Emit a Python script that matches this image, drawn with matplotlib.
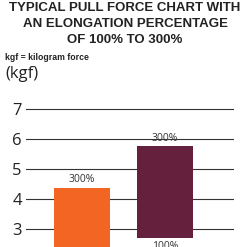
import matplotlib
matplotlib.use("Agg")
import matplotlib.pyplot as plt

# data
cats = [0, 1]
bottoms = [0.0, 2.7]
tops = [4.37, 5.77]
colors = ['#F26522', '#65203E']
top_labels = ['300%', '300%']
bottom_labels = [None, '100%']
yticks = [3, 4, 5, 6, 7]

fig = plt.figure(figsize=(2.47, 2.47), dpi=100)
W = 247.0
ax = fig.add_axes([26 / W, 0, 208 / W, 147 / W])

heights = [t - b for t, b in zip(tops, bottoms)]
ax.bar(cats, heights, bottom=bottoms, width=0.675, color=colors, zorder=3)

for y in yticks:
    ax.axhline(y, color='#333333', lw=0.8, zorder=1)

for x, t, lab in zip(cats, tops, top_labels):
    ax.text(x, t + 0.08, lab, ha='center', va='bottom', fontsize=7.5,
            family='Open Sans', color='#333333', zorder=4)
for x, b, lab in zip(cats, bottoms, bottom_labels):
    if lab:
        ax.text(x, b - 0.1, lab, ha='center', va='top', fontsize=7.5,
                family='Open Sans', color='#333333', zorder=4)

ax.set_xlim(-0.675, 1.831)
ax.set_ylim(2.4, 7.3)
ax.set_xticks([])
ax.set_yticks(yticks)
ax.set_yticklabels([str(v) for v in yticks], family='Open Sans', fontsize=12, color='#222222')
ax.tick_params(axis='y', length=0, pad=3)
for s in ax.spines.values():
    s.set_visible(False)
ax.patch.set_alpha(0)

title = ['TYPICAL PULL FORCE CHART WITH', 'AN ELONGATION PERCENTAGE', 'OF 100% TO 300%']
for i, line in enumerate(title):
    fig.text(0.5 + 1.5 / W, 1 - (2 + 16 * i) / W, line, ha='center', va='top',
             fontsize=9.5, fontweight='bold', family='Liberation Sans', color='#222222')

fig.text(5 / W, 1 - 57 / W, 'kgf = kilogram force', ha='left', va='center',
         fontsize=6.3, fontweight='bold', family='Liberation Sans', color='#222222')
fig.text(5 / W, 1 - 74 / W, '(kgf)', ha='left', va='center',
         fontsize=12, family='Open Sans', color='#222222')

fig.savefig('out.png', dpi=100)
